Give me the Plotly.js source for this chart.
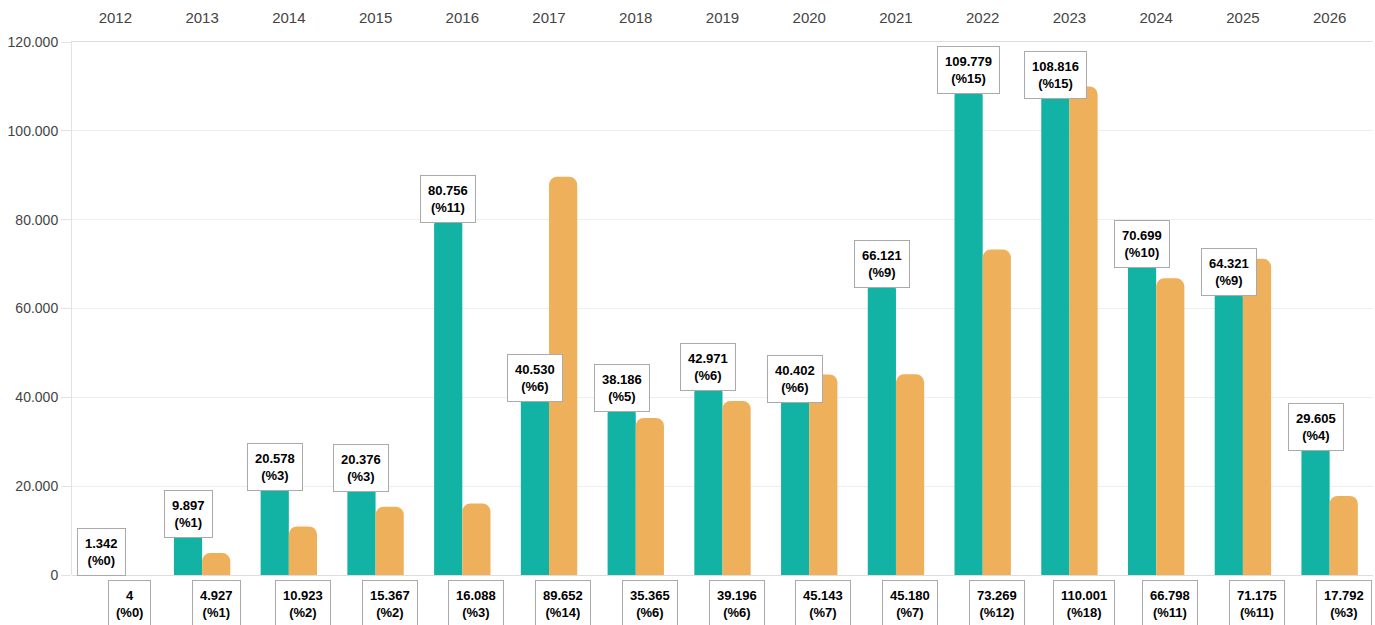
<!DOCTYPE html>
<html>
<head>
<meta charset="utf-8">
<script src="https://cdn.plot.ly/plotly-3.0.1.min.js"></script>
<style>
  html, body { margin: 0; padding: 0; background: #fff; }
  #myGraph { width: 1375px; height: 625px; }
</style>
</head>
<body>
<div id="myGraph"></div>
<script>
let years = ['2012', '2013', '2014', '2015', '2016', '2017', '2018', '2019',
    '2020', '2021', '2022', '2023', '2024', '2025', '2026'];

let tealValues = [1342, 9897, 20578, 20376, 80756, 40530, 38186, 42971,
    40402, 66121, 109779, 108816, 70699, 64321, 29605];
let tealPct = [0, 1, 3, 3, 11, 6, 5, 6, 6, 9, 15, 15, 10, 9, 4];

let orangeValues = [4, 4927, 10923, 15367, 16088, 89652, 35365, 39196,
    45143, 45180, 73269, 110001, 66798, 71175, 17792];
let orangePct = [0, 1, 2, 2, 3, 14, 6, 6, 7, 7, 12, 18, 11, 11, 3];

// 12345 -> 12.345
function fmt(v) {
    return String(v).replace(/\B(?=(\d{3})+(?!\d))/g, '.');
}

let bargap = 0.35;
let half = (1 - bargap) / 4;

let trace1 = {
    type: 'bar',
    name: 'teal',
    x: years,
    y: tealValues,
    marker: { color: '#12b3a4', cornerradius: 8 },
    hoverinfo: 'skip'
};

let trace2 = {
    type: 'bar',
    name: 'orange',
    x: years,
    y: orangeValues,
    marker: { color: '#efb05c', cornerradius: 8 },
    hoverinfo: 'skip'
};

let boxFont = { family: 'Liberation Sans, Arial, sans-serif', size: 13, color: '#000', weight: 'bold' };

let annotations = [];
years.forEach((yr, i) => {
    annotations.push({
        x: i - half, y: tealValues[i], xref: 'x', yref: 'y',
        text: '<b>' + fmt(tealValues[i]) + '<br>(%' + tealPct[i] + ')</b>',
        showarrow: false, yanchor: 'bottom', yshift: -7,
        bgcolor: '#fff', bordercolor: '#aaa', borderwidth: 1, borderpad: 7,
        font: boxFont, align: 'center'
    });
    annotations.push({
        x: i + half, y: 0, xref: 'x', yref: 'y',
        text: '<b>' + fmt(orangeValues[i]) + '<br>(%' + orangePct[i] + ')</b>',
        showarrow: false, yanchor: 'top', yshift: -5,
        bgcolor: '#fff', bordercolor: '#aaa', borderwidth: 1, borderpad: 7,
        font: boxFont, align: 'center'
    });
});

let layout = {
    barmode: 'group',
    bargap: bargap,
    bargroupgap: 0,
    showlegend: false,
    separators: ',.',
    margin: { l: 72, r: 2, t: 42, b: 50 },
    paper_bgcolor: '#fff',
    plot_bgcolor: '#fff',
    font: { family: 'Liberation Sans, Arial, sans-serif', color: '#444' },
    xaxis: {
        type: 'category',
        side: 'top',
        showline: true,
        linecolor: '#ddd',
        ticks: '',
        ticklabelstandoff: 12,
        tickfont: { size: 15, color: '#444' },
        fixedrange: true
    },
    yaxis: {
        range: [0, 120000],
        dtick: 20000,
        tickformat: ',d',
        showline: true,
        linecolor: '#e2e2e2',
        gridcolor: '#eeeeee',
        zeroline: true,
        zerolinecolor: '#dddddd',
        ticks: 'outside',
        ticklen: 10,
        tickcolor: '#e2e2e2',
        tickfont: { size: 14, color: '#444' },
        fixedrange: true
    },
    annotations: annotations
};

Plotly.newPlot('myGraph', [trace1, trace2], layout, { displayModeBar: false, staticPlot: true });
</script>
</body>
</html>
